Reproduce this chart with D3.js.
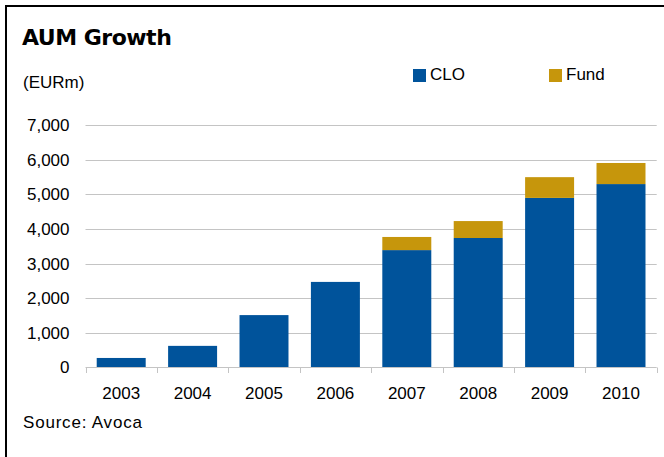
<!DOCTYPE html>
<html>
<head>
<meta charset="utf-8">
<script src="https://cdn.jsdelivr.net/npm/d3@7"></script>
<style>
  body { margin: 0; background: #fff; }
  svg { display: block; }
</style>
</head>
<body>
<div id="chart"></div>
<script>
// data (EURm)
var years = ['2003', '2004', '2005', '2006', '2007', '2008', '2009', '2010'];
var cloValues = [270, 620, 1510, 2470, 3390, 3740, 4900, 5300];
var fundValues = [0, 0, 0, 0, 380, 490, 600, 610];
var yTicks = [0, 1000, 2000, 3000, 4000, 5000, 6000, 7000];
var seriesNames = ['CLO', 'Fund'];
var seriesColors = ['#00539b', '#c6960c'];

const w = 664;
const h = 457;
const font = '"Liberation Sans", Arial, sans-serif';

const svg = d3.select('#chart')
  .append('svg')
  .attr('width', w)
  .attr('height', h);

// frame (only top/left edges fall inside the picture)
svg.append('rect')
  .attr('x', 6).attr('y', 6)
  .attr('width', w + 20).attr('height', h + 20)
  .attr('fill', 'none')
  .attr('stroke', '#000')
  .attr('stroke-width', 2);

// title
svg.append('text')
  .attr('x', 22).attr('y', 45)
  .style('font-family', '"DejaVu Sans", Verdana, sans-serif')
  .style('font-weight', 'bold')
  .style('font-size', '22px')
  .style('letter-spacing', '-0.5px')
  .attr('fill', '#000')
  .text('AUM Growth');

svg.append('text')
  .attr('x', 23).attr('y', 88)
  .style('font-family', font)
  .style('font-size', '17px')
  .text('(EURm)');

// scales
var xScale = d3.scaleBand()
  .domain(years)
  .range([85.5, 656.7])
  .paddingInner(0.314)
  .paddingOuter(0.157);

var yScale = d3.scaleLinear()
  .domain([0, 7000])
  .range([367.3, 125.3]);

// gridlines + y labels
var yAxis = d3.axisLeft(yScale)
  .tickValues(yTicks)
  .tickFormat(d3.format(','))
  .tickSize(0)
  .tickPadding(16);

var gy = svg.append('g')
  .attr('transform', 'translate(85.5,0)')
  .call(yAxis);
gy.select('.domain').remove();
gy.selectAll('text')
  .style('font-family', font)
  .style('font-size', '17px')
  .attr('fill', '#000');

svg.append('g')
  .selectAll('line')
  .data(yTicks.slice(1))
  .enter()
  .append('line')
  .attr('x1', 85.5).attr('x2', 656.7)
  .attr('y1', d => Math.round(yScale(d)) + 0.5)
  .attr('y2', d => Math.round(yScale(d)) + 0.5)
  .attr('stroke', '#c4c4c4')
  .attr('stroke-width', 1);

// stacked bars
var stacked = years.map(function (y, i) {
  return { year: y, CLO: cloValues[i], Fund: fundValues[i] };
});
var series = d3.stack().keys(seriesNames)(stacked);

svg.append('g')
  .selectAll('g')
  .data(series)
  .enter()
  .append('g')
  .attr('fill', (d, i) => seriesColors[i])
  .selectAll('rect')
  .data(d => d)
  .enter()
  .append('rect')
  .attr('x', d => xScale(d.data.year))
  .attr('y', d => yScale(d[1]))
  .attr('width', xScale.bandwidth())
  .attr('height', d => yScale(d[0]) - yScale(d[1]));

// x axis line with ticks between categories
var step = xScale.step();
var x0 = xScale.range()[0];
var xg = svg.append('g');
xg.append('line')
  .attr('x1', x0).attr('x2', 656.7)
  .attr('y1', 367.5).attr('y2', 367.5)
  .attr('stroke', '#c4c4c4');
xg.selectAll('line.tick')
  .data(d3.range(years.length + 1))
  .enter()
  .append('line')
  .attr('class', 'tick')
  .attr('x1', d => Math.round(x0 + d * step) + 0.5)
  .attr('x2', d => Math.round(x0 + d * step) + 0.5)
  .attr('y1', 367.5).attr('y2', 373)
  .attr('stroke', '#c4c4c4');

xg.selectAll('text')
  .data(years)
  .enter()
  .append('text')
  .attr('x', d => xScale(d) + xScale.bandwidth() / 2)
  .attr('y', 399)
  .attr('text-anchor', 'middle')
  .style('font-family', font)
  .style('font-size', '17px')
  .text(d => d);

// legend
var legendX = [413, 549];
var legend = svg.append('g')
  .selectAll('g')
  .data(seriesNames)
  .enter()
  .append('g')
  .attr('transform', (d, i) => 'translate(' + legendX[i] + ',69)');
legend.append('rect')
  .attr('width', 13).attr('height', 13)
  .attr('fill', (d, i) => seriesColors[i]);
legend.append('text')
  .attr('x', 17).attr('y', 11)
  .style('font-family', font)
  .style('font-size', '17px')
  .text(d => d);

// source
svg.append('text')
  .attr('x', 23).attr('y', 428)
  .style('font-family', font)
  .style('font-size', '17px')
  .style('letter-spacing', '0.8px')
  .text('Source: Avoca');
</script>
</body>
</html>
